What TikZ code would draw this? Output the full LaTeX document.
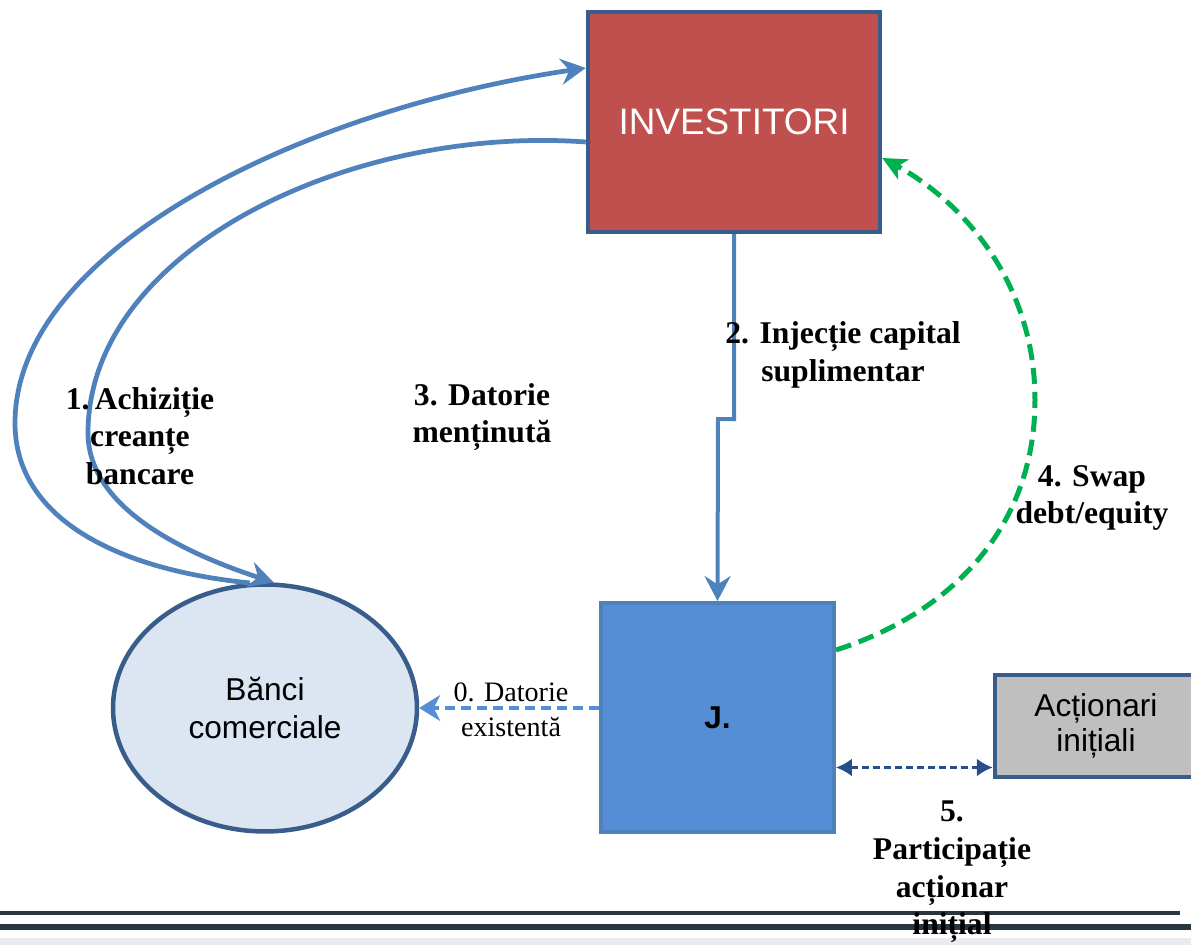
\documentclass[tikz,border=0pt]{standalone}
\usepackage{fontspec}
\setmainfont{Liberation Serif}
\newfontfamily\arialfont{Liberation Sans}
\usetikzlibrary{shapes.geometric,arrows.meta}

\definecolor{invred}{HTML}{C0504D}
\definecolor{darkedge}{HTML}{385D8A}
\definecolor{jblue}{HTML}{558ED5}
\definecolor{jedge}{HTML}{4F81BD}
\definecolor{bankfill}{HTML}{DCE6F2}
\definecolor{flowblue}{HTML}{4F81BD}
\definecolor{swapgreen}{HTML}{00B050}
\definecolor{shareblue}{HTML}{254E8A}
\definecolor{greyfill}{HTML}{BFBFBF}
\definecolor{ruledark}{HTML}{27363F}
\definecolor{bandgrey}{HTML}{EBEBEF}

\tikzset{
  boxnode/.style={draw=darkedge, line width=0.09cm, inner sep=0pt, align=center,
    font=\arialfont\fontsize{18}{22}\selectfont},
  steplabel/.style={font=\bfseries\fontsize{18}{21.5}\selectfont, align=center, inner sep=0pt},
  flow/.style={flowblue, line width=0.095cm, -{Stealth[length=0.5cm,width=0.52cm,inset=0.17cm]}},
}

\begin{document}
\begin{tikzpicture}[x=0.02cm,y=-0.02cm]
            \useasboundingbox (0,0) rectangle (1191,945);

            % Drawing the rules at the bottom
            \fill [bandgrey] (0,938) rectangle (1191,945);%
            \draw [ruledark, line width=0.08cm] (0,913) -- (1180,913);%
            \draw [ruledark, line width=0.14cm] (0,927) -- (1191,927);%

            % Drawing the boxes
            \node [boxnode, fill=invred, text=white, minimum width=5.84cm, minimum height=4.4cm,
                   font=\arialfont\fontsize{21}{25}\selectfont] (inv) at (734,122) {INVESTITORI};%
            \node [boxnode, draw=jedge, fill=jblue, line width=0.08cm, minimum width=4.66cm, minimum height=4.58cm,
                   font=\arialfont\bfseries\fontsize{18}{22}\selectfont] (j) at (717.5,717.5) {J.};%
            \node [boxnode, ellipse, fill=bankfill, minimum width=6.08cm, minimum height=4.94cm] (banci) at (265,708) {Bănci\\comerciale};%
            \node [boxnode, fill=greyfill, minimum width=4.04cm, minimum height=2.04cm,
                   font=\arialfont\fontsize{18}{20}\selectfont] (actionari) at (1096,726) {Acționari\\inițiali};%

            % Drawing flow 1 (banks to investors) and flow 3 (investors to banks)
            \draw [flow] (banci.97) .. controls (120,570) and (15,520) .. (15,423)
                  .. controls (15,250) and (300,110) .. ([yshift=1.08cm]inv.west);%
            \draw [flow] ([yshift=-0.4cm]inv.west) .. controls (350,125) and (88,250) .. (88,433)
                  .. controls (88,510) and (190,555) .. (banci.86);%

            % Drawing flow 2 (capital injection)
            \draw [flow, line width=0.08cm] (inv.south) -- ++(0,185) -- ++(-16,0) -- (j.north);%

            % Drawing flow 4 (swap)
            \draw [swapgreen, line width=0.1cm, dash pattern=on 0.32cm off 0.16cm,
                   -{Stealth[length=0.48cm,width=0.45cm,inset=0.13cm]}]
                  ([yshift=1.35cm]j.east) .. controls (960,610) and (1035,520) .. (1035,400)
                  .. controls (1035,280) and (960,200) .. ([yshift=-0.72cm]inv.east);%

            % Drawing flow 0 (existing debt)
            \draw [jblue, line width=0.065cm, dash pattern=on 0.2cm off 0.12cm,
                   -{Stealth[length=0.42cm,width=0.52cm,inset=0.13cm]}]
                  (j.west |- banci.east) -- (banci.east);%

            % Drawing flow 5 (initial shareholders)
            \draw [shareblue, line width=0.05cm, dash pattern=on 0.14cm off 0.08cm,
                   {Latex[length=0.32cm,width=0.36cm]}-{Latex[length=0.32cm,width=0.36cm]}]
                  ([yshift=-1cm]j.east) -- ([yshift=-1cm]j.east -| actionari.west);%

            % Marking the labels
            \node [steplabel] (lblach) at (140,436) {1.\,Achiziție\\creanțe\\bancare};%
            \node [steplabel] (lblinj) at (843,355) {2. Injecție capital\\suplimentar};%
            \node [steplabel] (lbldat) at (482,417) {3. Datorie\\menținută};%
            \node [steplabel] (lblswap) at (1092,498) {4. Swap\\debt/equity};%
            \node [steplabel] (lblpart) at (952,872) {5.\\Participație\\acționar\\inițial};%
            \node [align=center, inner sep=0pt, font=\fontsize{16}{19.8}\selectfont] (lblexist) at (511,710) {0. Datorie\\existentă};%
\end{tikzpicture}
\end{document}
